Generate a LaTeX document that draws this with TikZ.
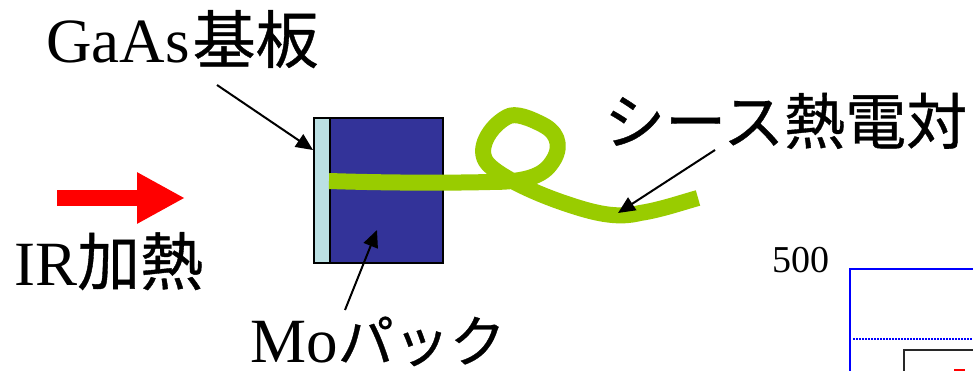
\documentclass[tikz,border=0pt]{standalone}
\usepackage{fontspec}
\setmainfont{Liberation Serif}
\newfontfamily\jp[FakeBold=0.6]{Noto Sans CJK JP}
\usetikzlibrary{arrows.meta}
\newcommand{\jpa}[1]{{\fontsize{63}{63}\selectfont\jp #1}}
\tikzset{
  lbl/.style={inner sep=0pt,anchor=base west,font=\fontsize{63}{63}\selectfont},
  pointer/.style={draw=black,line width=2pt,-{Triangle[length=17pt,width=15pt]}},
  wire/.style={draw={rgb,255:red,153;green,204;blue,0},line width=16pt,line join=round},
  plot/.style={draw={rgb,255:red,0;green,0;blue,255},line width=2pt}
}
\begin{document}
\begin{tikzpicture}[x=1pt,y=-1pt]
\useasboundingbox (0,0) rectangle (973,371);
\fill[white] (0,0) rectangle (973,371);
% holder
\node[draw=black,line width=2pt,fill={rgb,255:red,187;green,224;blue,227},minimum width=16pt,minimum height=144pt,inner sep=0pt,anchor=north west] (sub) at (312.5,117.5) {};
\node[draw=black,line width=2pt,fill={rgb,255:red,51;green,51;blue,153},minimum width=113pt,minimum height=144pt,inner sep=0pt,anchor=north west] (pack) at (328.5,117.5) {};
% wire
\path[wire] (329,181) .. controls (390,183) and (450,183) .. (490,182)
  .. controls (520,182) and (540,178) .. (550,165)
  .. controls (562,150) and (560,135) .. (545,126)
  .. controls (530,118) and (515,112) .. (507,117)
  .. controls (490,126) and (475,150) .. (488,164)
  .. controls (498,175) and (530,192) .. (570,205)
  .. controls (600,215) and (620,218) .. (640,213)
  .. controls (660,210) and (680,203) .. (698,198);
% red arrow
\coordinate (ra) at (57,198);
\coordinate (rb) at (185,198);
\draw[draw=red,line width=16pt,-{Triangle[length=48pt,width=48pt,fill=red]}] (ra) -- (rb);
% labels
\node[lbl] (ga) at (46,63) {GaAs\hspace{3pt}\jpa{基板}};
\node[lbl] (ir) at (14,285) {IR\jpa{加熱}};
\node[lbl] (mo) at (250,362) {Mo{\fontsize{56}{56}\selectfont\jp パック}};
\node[lbl,font=\fontsize{61}{61}\selectfont] (sh) at (604,144) {\jp シース熱電対};
\coordinate (gaend) at (313,150);
\coordinate (gastart) at (217,85);
\coordinate (moend) at (377,230);
\coordinate (mostart) at (345,310);
\coordinate (shend) at (618,213);
\coordinate (shstart) at (715,150);
\draw[pointer] (gastart) -- (gaend);
\draw[pointer] (mostart) -- (moend);
\draw[pointer] (shstart) -- (shend);
% plot fragment
\node[inner sep=0pt,anchor=base west,font=\fontsize{38}{38}\selectfont] (v) at (772,272) {500};
\coordinate (pa) at (850,371);
\coordinate (pb) at (850,269);
\coordinate (pc) at (973,269);
\draw[plot] (pa) -- (pb) -- (pc);
\coordinate (da) at (853,339);
\coordinate (db) at (973,339);
\draw[draw={rgb,255:red,0;green,0;blue,255},line width=1.5pt,dash pattern=on 1.5pt off 1.5pt] (da) -- (db);
\coordinate (ia) at (904,371);
\coordinate (ib) at (904,350);
\coordinate (ic) at (973,350);
\draw[draw={rgb,255:red,40;green,40;blue,40},line width=1.5pt] (ia) -- (ib) -- (ic);
\coordinate (ma) at (954,370);
\coordinate (mb) at (965,370);
\draw[draw=red,line width=3pt] (ma) -- (mb);
\end{tikzpicture}
\end{document}
